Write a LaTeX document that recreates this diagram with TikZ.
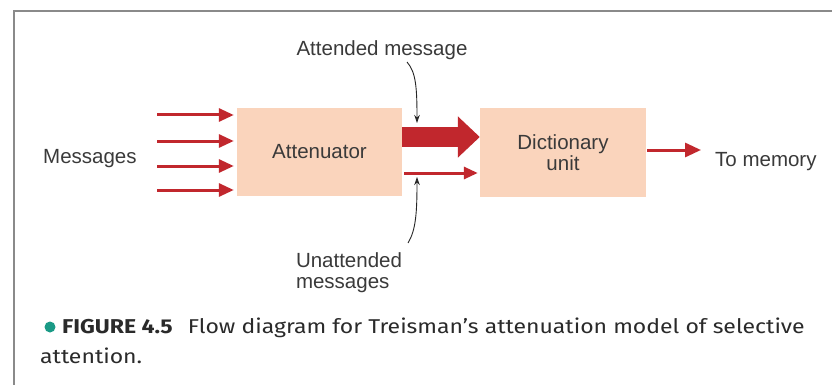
\documentclass[tikz,border=0pt]{standalone}
\usepackage{fontspec}
\setmainfont{Liberation Sans}
\newfontfamily\capfont[FakeStretch=1.15]{Fira Sans}
\usetikzlibrary{arrows.meta}
\definecolor{peach}{HTML}{FAD4BC}
\definecolor{arrred}{HTML}{C1272D}
\definecolor{txt}{HTML}{3A3A3A}
\definecolor{captxt}{HTML}{2A2A2A}
\definecolor{framegray}{HTML}{8A8A8A}
\definecolor{tealdot}{HTML}{1A9A86}
\begin{document}
\begin{tikzpicture}[x=1pt,y=-1pt,
  procbox/.style={fill=peach, draw=none, minimum width=165pt, minimum height=88pt, inner sep=0pt, text=txt, align=center,
    font=\fontsize{20.5}{21}\selectfont},
  lbl/.style={text=txt, inner sep=0pt, font=\fontsize{20.5}{21}\selectfont},
  thinarrow/.style={draw=arrred, line width=3pt, -{Triangle[length=15pt,width=13pt]}},
  bigarrow/.style={draw=arrred, line width=20pt, -{Triangle[length=22pt,width=40pt]}},
  pointer/.style={draw=black!85, line width=0.9pt, -{Stealth[length=8pt,width=5.5pt]}},
  captext/.style={text=captxt, inner sep=0pt, font=\capfont\fontsize{20}{24}\selectfont}
]
\useasboundingbox (0,0) rectangle (832,385);
\fill[white] (0,0) rectangle (832,385);
% frame
\draw[framegray, line width=2pt] (14,385) -- (14,11) -- (832,11);

% boxes
\node[procbox] (att) at (319.5,152) {Attenuator};
\node[procbox, minimum width=166pt, minimum height=89pt] (dict) at (563,152.5) {Dictionary\\unit};

% labels
\node[lbl, anchor=base west] (msg) at (43,163) {Messages};
\node[lbl, anchor=base] (attmsg) at (382,56) {Attended message};
\node[lbl, anchor=center, align=left] (unatt) at (349,272.5) {Unattended\\messages};
\node[lbl, anchor=base west] (mem) at (715,166) {To memory};

% input arrows
\coordinate (i1) at (157,115);
\coordinate (i2) at (157,141);
\coordinate (i3) at (157,166);
\coordinate (i4) at (157,190);
\foreach \i in {i1,i2,i3,i4}
  \draw[thinarrow] (\i) -- ([xshift=-3pt]att.west |- \i);

% attended (big) arrow
\coordinate (bigy) at (0,137);
\draw[bigarrow] (att.east |- bigy) -- (dict.west |- bigy);

% unattended (small) arrow
\coordinate (smy) at (0,173);
\draw[thinarrow, -{Triangle[length=14pt,width=12pt]}] ([xshift=2pt]att.east |- smy) -- ([xshift=-2pt]dict.west |- smy);

% to memory
\coordinate (memy) at (0,150);
\coordinate (memend) at (701,150);
\draw[thinarrow, -{Triangle[length=16pt,width=14pt]}] ([xshift=1pt]dict.east |- memy) -- (memend);

% pointers
\coordinate (p1s) at (407,62);
\coordinate (p1e) at (417,123);
\draw[pointer] (p1s) .. controls (416,72) and (417,88) .. (p1e);
\coordinate (p2s) at (408,243);
\coordinate (p2e) at (417,177);
\draw[pointer] (p2s) .. controls (416,230) and (417,212) .. (p2e);

% caption
\fill[tealdot] (50,327) circle (5.5pt);
\node[captext, anchor=base west] (cap1) at (62,333) {\textbf{FIGURE 4.5}\hspace{0.45em} Flow diagram for Treisman’s attenuation model of selective};
\node[captext, anchor=base west] (cap2) at (40,363) {attention.};
\end{tikzpicture}
\end{document}
